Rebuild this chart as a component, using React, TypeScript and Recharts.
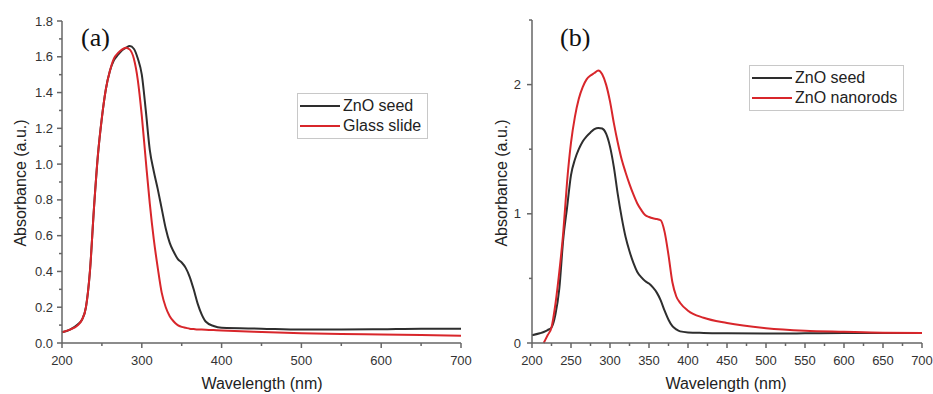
import React from 'react';
import { LineChart, Line, XAxis, YAxis, Legend } from 'recharts';

// panel (a): ZnO seed vs glass slide
const wavelengthA = [200, 210, 220, 225, 230, 235, 240, 245, 250, 255, 260, 265, 270, 275, 280, 285, 290, 295, 300, 305, 310, 315, 320, 325, 330, 335, 340, 345, 350, 355, 360, 365, 370, 375, 380, 390, 400, 450, 500, 550, 600, 650, 700];
const seedA = [0.06, 0.075, 0.105, 0.13, 0.2, 0.4, 0.75, 1.05, 1.26, 1.42, 1.52, 1.58, 1.61, 1.635, 1.65, 1.66, 1.645, 1.59, 1.5, 1.3, 1.08, 0.96, 0.86, 0.75, 0.64, 0.56, 0.51, 0.47, 0.45, 0.42, 0.37, 0.3, 0.22, 0.16, 0.12, 0.095, 0.085, 0.08, 0.075, 0.075, 0.077, 0.08, 0.08];
const glassA = [0.06, 0.075, 0.1, 0.13, 0.2, 0.4, 0.75, 1.05, 1.26, 1.42, 1.52, 1.59, 1.62, 1.64, 1.65, 1.64, 1.59, 1.47, 1.27, 1.02, 0.78, 0.58, 0.42, 0.28, 0.2, 0.15, 0.12, 0.1, 0.09, 0.085, 0.08, 0.078, 0.076, 0.075, 0.074, 0.072, 0.07, 0.062, 0.055, 0.05, 0.048, 0.045, 0.04];

// panel (b): ZnO seed vs ZnO nanorods
const wavelengthB = [200, 210, 215, 220, 225, 230, 235, 240, 245, 250, 255, 260, 265, 270, 275, 280, 285, 290, 295, 300, 305, 310, 315, 320, 325, 330, 335, 340, 345, 350, 355, 360, 365, 370, 375, 380, 385, 390, 400, 420, 450, 500, 550, 600, 650, 700];
const seedB = [0.06, 0.075, 0.085, 0.1, 0.12, 0.22, 0.42, 0.8, 1.05, 1.3, 1.42, 1.5, 1.56, 1.6, 1.63, 1.655, 1.665, 1.66, 1.62, 1.52, 1.36, 1.15, 0.97, 0.82, 0.71, 0.62, 0.55, 0.51, 0.48, 0.46, 0.43, 0.39, 0.33, 0.25, 0.18, 0.13, 0.105, 0.09, 0.082, 0.078, 0.075, 0.073, 0.075, 0.078, 0.078, 0.078];
const nanorodsB = [null, null, 0, 0.06, 0.12, 0.3, 0.55, 0.85, 1.25, 1.55, 1.75, 1.89, 1.98, 2.04, 2.07, 2.09, 2.11, 2.08, 2.0, 1.87, 1.7, 1.55, 1.42, 1.32, 1.23, 1.15, 1.08, 1.03, 0.99, 0.975, 0.965, 0.96, 0.95, 0.86, 0.68, 0.47, 0.36, 0.31, 0.25, 0.195, 0.155, 0.115, 0.095, 0.087, 0.08, 0.078];

const xTicksA = [200, 250, 300, 350, 400, 450, 500, 550, 600, 650, 700];
const yTicksA = [0, 0.1, 0.2, 0.3, 0.4, 0.5, 0.6, 0.7, 0.8, 0.9, 1.0, 1.1, 1.2, 1.3, 1.4, 1.5, 1.6, 1.7, 1.8];
const xTicksB = [200, 225, 250, 275, 300, 325, 350, 375, 400, 425, 450, 475, 500, 525, 550, 575, 600, 625, 650, 675, 700];
const yTicksB = [0, 0.5, 1, 1.5, 2, 2.5];

const dataA = wavelengthA.map((w, i) => ({ w, seed: seedA[i], glass: glassA[i] }));
const dataB = wavelengthB.map((w, i) => ({ w, seed: seedB[i], rods: nanorodsB[i] }));

const FONT = '"Liberation Sans", Arial, sans-serif';
const AXIS = '#666';
const BLACK = '#2e2e2e';
const RED = '#d8262b';

const makeXTick = (isMajor: (v: number) => boolean) => (props: any) => {
  const { x, y, payload } = props;
  const major = isMajor(payload.value);
  return (
    <g>
      <line x1={x} x2={x} y1={y} y2={y + (major ? 5 : 3)} stroke={AXIS} strokeWidth={1.5} />
      {major && (
        <text x={x} y={y + 17} dy="0.35em" textAnchor="middle" fontSize={13} fill="#333" fontFamily={FONT}>
          {payload.value}
        </text>
      )}
    </g>
  );
};

const makeYTick = (isMajor: (v: number) => boolean, fmt: (v: number) => string, gap: number) => (props: any) => {
  const { x, y, payload } = props;
  const major = isMajor(payload.value);
  return (
    <g>
      <line x1={x} x2={x - (major ? 5 : 3)} y1={y} y2={y} stroke={AXIS} strokeWidth={1.5} />
      {major && (
        <text x={x - gap} y={y} dy="0.35em" textAnchor="end" fontSize={13} fill="#333" fontFamily={FONT}>
          {fmt(payload.value)}
        </text>
      )}
    </g>
  );
};

const LegendBox = ({ items }: { items: { name: string; color: string }[] }) => (
  <div
    style={{
      border: '1px solid #c8c8c8',
      background: '#fff',
      padding: '2px 6px 2px 2px',
      fontFamily: FONT,
      fontSize: 16,
      color: '#222',
      lineHeight: '20px',
    }}
  >
    {items.map((it) => (
      <div key={it.name} style={{ display: 'flex', alignItems: 'center', whiteSpace: 'nowrap' }}>
        <span style={{ display: 'inline-block', width: 40, height: 2, background: it.color, marginRight: 3 }} />
        {it.name}
      </div>
    ))}
  </div>
);

const axisTitle: React.CSSProperties = {
  position: 'absolute',
  fontFamily: FONT,
  fontSize: 16,
  color: '#222',
  whiteSpace: 'nowrap',
  lineHeight: 1,
};

const panelLabel: React.CSSProperties = {
  position: 'absolute',
  fontFamily: '"Liberation Serif", "Times New Roman", serif',
  fontSize: 26,
  color: '#111',
  lineHeight: 1,
};

export default function App() {
  return (
    <div style={{ position: 'absolute', left: 0, top: 0, width: 933, height: 394, background: '#fff' }}>
      <div style={{ position: 'absolute', left: 0, top: 0 }}>
        <LineChart width={482} height={394} data={dataA} margin={{ top: 21, right: 21, bottom: 21, left: 22 }}>
          <XAxis
            dataKey="w"
            type="number"
            domain={[200, 700]}
            ticks={xTicksA}
            interval={0}
            tickSize={0}
            tickMargin={0}
            tickLine={false}
            height={30}
            stroke={AXIS}
            strokeWidth={1.5}
            tick={makeXTick((v) => v % 100 === 0)}
          />
          <YAxis
            type="number"
            domain={[0, 1.8]}
            ticks={yTicksA}
            interval={0}
            width={40}
            tickSize={0}
            tickMargin={0}
            tickLine={false}
            stroke={AXIS}
            strokeWidth={1.5}
            tick={makeYTick((v) => Math.round(v * 10) % 2 === 0, (v) => v.toFixed(1), 9)}
          />
          <Line type="monotone" dataKey="seed" stroke={BLACK} strokeWidth={2} dot={false} isAnimationActive={false} />
          <Line type="monotone" dataKey="glass" stroke={RED} strokeWidth={2} dot={false} isAnimationActive={false} />
          <Legend
            layout="horizontal"
            align="center"
            verticalAlign="middle"
            wrapperStyle={{ left: 297, top: 93, width: 'auto' }}
            content={() => (
              <LegendBox
                items={[
                  { name: 'ZnO seed', color: BLACK },
                  { name: 'Glass slide', color: RED },
                ]}
              />
            )}
          />
        </LineChart>
      </div>
      <div style={{ position: 'absolute', left: 470, top: 0 }}>
        <LineChart width={463} height={394} data={dataB} margin={{ top: 20, right: 11, bottom: 21, left: 22 }}>
          <XAxis
            dataKey="w"
            type="number"
            domain={[200, 700]}
            ticks={xTicksB}
            interval={0}
            tickSize={0}
            tickMargin={0}
            tickLine={false}
            height={30}
            stroke={AXIS}
            strokeWidth={1.5}
            tick={makeXTick((v) => v % 50 === 0)}
          />
          <YAxis
            type="number"
            domain={[0, 2.5]}
            ticks={yTicksB}
            interval={0}
            width={40}
            tickSize={0}
            tickMargin={0}
            tickLine={false}
            stroke={AXIS}
            strokeWidth={1.5}
            tick={makeYTick((v) => Number.isInteger(v), (v) => String(v), 11)}
          />
          <Line type="monotone" dataKey="seed" stroke={BLACK} strokeWidth={2} dot={false} isAnimationActive={false} />
          <Line type="monotone" dataKey="rods" stroke={RED} strokeWidth={2} dot={false} connectNulls isAnimationActive={false} />
          <Legend
            layout="horizontal"
            align="center"
            verticalAlign="middle"
            wrapperStyle={{ left: 279, top: 65, width: 'auto' }}
            content={() => (
              <LegendBox
                items={[
                  { name: 'ZnO seed', color: BLACK },
                  { name: 'ZnO nanorods', color: RED },
                ]}
              />
            )}
          />
        </LineChart>
      </div>

      <div style={{ ...panelLabel, left: 81, top: 25 }}>(a)</div>
      <div style={{ ...panelLabel, left: 560, top: 25 }}>(b)</div>

      <div style={{ ...axisTitle, left: 21, top: 183, transform: 'translate(-50%, -50%) rotate(-90deg)' }}>Absorbance (a.u.)</div>
      <div style={{ ...axisTitle, left: 502, top: 183, transform: 'translate(-50%, -50%) rotate(-90deg)' }}>Absorbance (a.u.)</div>
      <div style={{ ...axisTitle, left: 262, top: 384, transform: 'translate(-50%, -50%)' }}>Wavelength (nm)</div>
      <div style={{ ...axisTitle, left: 726, top: 384, transform: 'translate(-50%, -50%)' }}>Wavelength (nm)</div>
    </div>
  );
}
